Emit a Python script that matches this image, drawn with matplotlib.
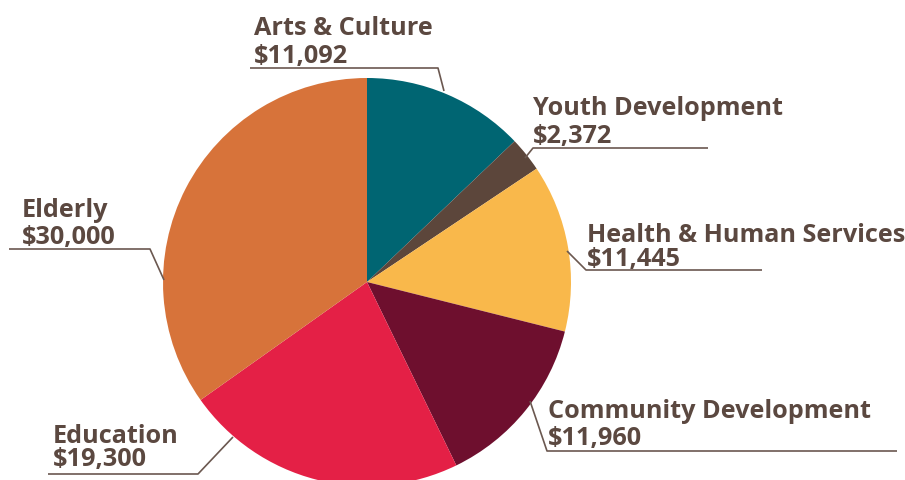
import matplotlib.pyplot as plt

categories = ['Arts & Culture', 'Youth Development', 'Health & Human Services',
              'Community Development', 'Education', 'Elderly']
amounts = [11092, 2372, 11445, 11960, 19300, 30000]
colors = ['#006572', '#5c463b', '#f9b84b', '#6e0f2e', '#e42046', '#d7733a']

W, H = 905, 481
TXT = '#5b4840'

# label layout in image pixels: text x, baseline of line 1, baseline of line 2, leader polyline
layout = {
    'Arts & Culture': (254, 35, 63, [(250, 69), (438, 69), (444, 92)]),
    'Youth Development': (533, 115, 143, [(708, 149), (533, 149), (525, 159)]),
    'Health & Human Services': (587, 242, 266, [(762, 271), (586, 271), (567, 252)]),
    'Community Development': (548, 418, 445, [(897, 452), (547, 452), (530, 402)]),
    'Education': (53, 443, 466, [(48, 475), (198, 475), (233, 438)]),
    'Elderly': (22, 217, 244, [(9, 250), (150, 250), (164, 281)]),
}

fig = plt.figure(figsize=(W / 100, H / 100), dpi=100)
ax = fig.add_axes([0, 0, 1, 1])

ax.pie(amounts, colors=colors, startangle=90, counterclock=False,
       center=(367, H - 283), radius=204, frame=True,
       wedgeprops={'linewidth': 0})
ax.set_xlim(0, W)
ax.set_ylim(0, H)
ax.set_aspect('equal')
ax.axis('off')

for name, amount in zip(categories, amounts):
    x, b1, b2, pts = layout[name]
    font = dict(fontsize=18.2, fontweight='bold', family='Open Sans', color=TXT,
                va='baseline', ha='left')
    ax.text(x, H - b1, name, **font)
    ax.text(x, H - b2, f'${amount:,}', **font)
    ax.plot([p[0] for p in pts], [H - p[1] for p in pts], color='#6b5850', lw=1.2,
            solid_capstyle='butt')

fig.savefig('out.png', dpi=100)
